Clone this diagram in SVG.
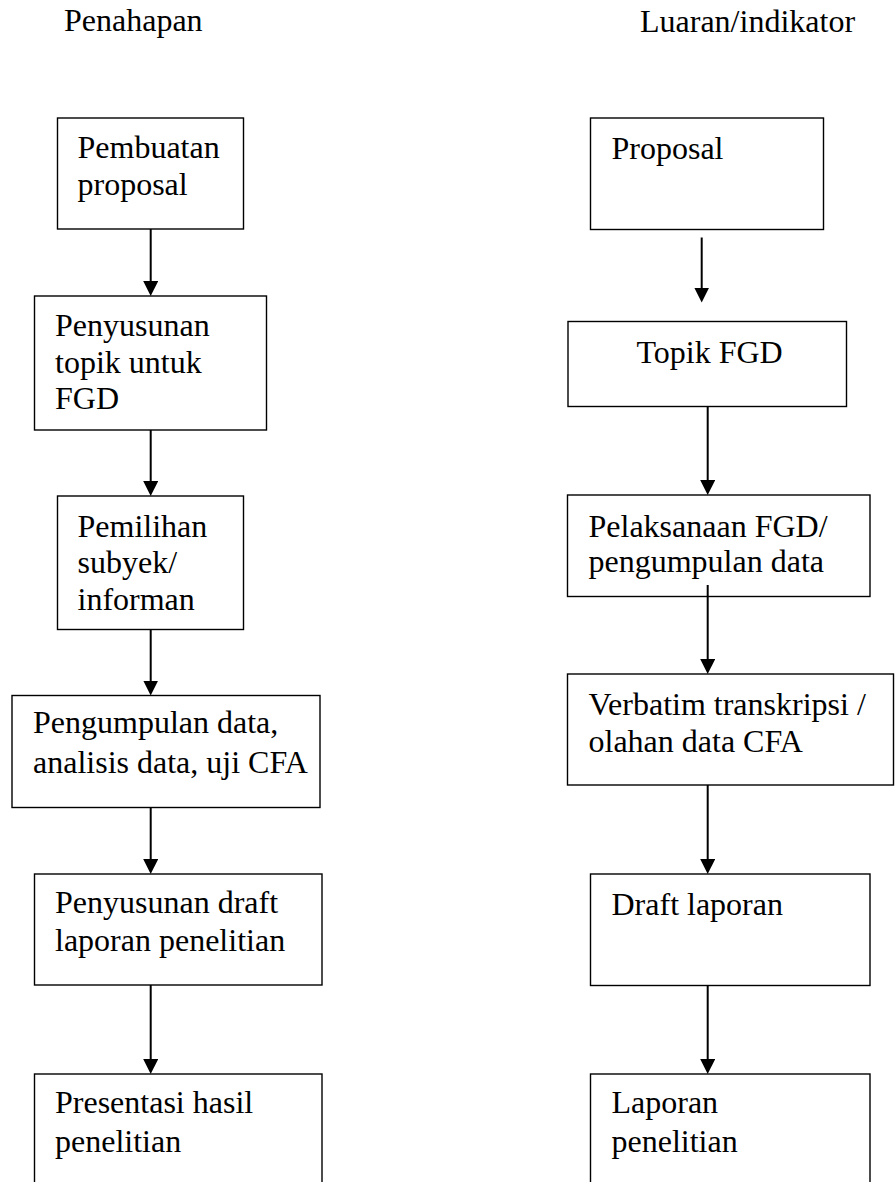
<svg xmlns="http://www.w3.org/2000/svg" width="896" height="1182" viewBox="0 0 896 1182">
  <style>
    .box { fill: #ffffff; stroke: #000000; stroke-width: 1.4; }
    .lbl { font-family: 'Liberation Serif', 'Times New Roman', serif; font-size: 32px; fill: #000000; }
    .link { stroke: #000000; stroke-width: 2; fill: none; marker-end: url(#head); }
  </style>
  <defs>
    <marker id="head" viewBox="0 0 15 15" markerWidth="15" markerHeight="15" refX="5" refY="7.5" orient="auto" markerUnits="userSpaceOnUse">
      <path d="M0,0 L15,7.5 L0,15 z" fill="#000000"/>
    </marker>
  </defs>
  <rect width="896" height="1182" fill="#ffffff"/>

  <!-- column headings -->
  <text class="lbl" x="64" y="31">Penahapan</text>
  <text class="lbl" x="640" y="32">Luaran/indikator</text>

  <!-- stages (left column) -->
  <g id="stage1">
    <rect class="box" x="57.5" y="118" width="186" height="111"/>
    <text class="lbl" x="77.5" y="158">Pembuatan</text>
    <text class="lbl" x="77.5" y="195">proposal</text>
  </g>
  <g id="stage2">
    <rect class="box" x="34.5" y="296" width="232" height="134"/>
    <text class="lbl" x="55" y="336">Penyusunan</text>
    <text class="lbl" x="55" y="372.5">topik untuk</text>
    <text class="lbl" x="55" y="409">FGD</text>
  </g>
  <g id="stage3">
    <rect class="box" x="57.5" y="496" width="186" height="133.5"/>
    <text class="lbl" x="77.5" y="536.5">Pemilihan</text>
    <text class="lbl" x="77.5" y="573">subyek/</text>
    <text class="lbl" x="77.5" y="610">informan</text>
  </g>
  <g id="stage4">
    <rect class="box" x="12" y="695.5" width="308" height="112"/>
    <text class="lbl" x="33" y="733">Pengumpulan data,</text>
    <text class="lbl" x="33" y="772.5">analisis data, uji CFA</text>
  </g>
  <g id="stage5">
    <rect class="box" x="34.5" y="874" width="287.5" height="111"/>
    <text class="lbl" x="55" y="913">Penyusunan draft</text>
    <text class="lbl" x="55" y="950.5">laporan penelitian</text>
  </g>
  <g id="stage6">
    <rect class="box" x="34.5" y="1074" width="287.5" height="200"/>
    <text class="lbl" x="55" y="1113">Presentasi hasil</text>
    <text class="lbl" x="55" y="1151.5">penelitian</text>
  </g>

  <!-- outputs (right column) -->
  <g id="output1">
    <rect class="box" x="590.5" y="118" width="233" height="111.5"/>
    <text class="lbl" x="611.5" y="159">Proposal</text>
  </g>
  <g id="output2">
    <rect class="box" x="568" y="321.5" width="278.5" height="85"/>
    <text class="lbl" x="636.5" y="363">Topik FGD</text>
  </g>
  <g id="output3">
    <rect class="box" x="567.5" y="495" width="302.5" height="101.5"/>
    <text class="lbl" x="588.5" y="536.5">Pelaksanaan FGD/</text>
    <text class="lbl" x="588.5" y="571.5">pengumpulan data</text>
  </g>
  <g id="output4">
    <rect class="box" x="567.5" y="674" width="326" height="111"/>
    <text class="lbl" x="588.5" y="715">Verbatim transkripsi /</text>
    <text class="lbl" x="588.5" y="751.5">olahan data CFA</text>
  </g>
  <g id="output5">
    <rect class="box" x="590.5" y="874" width="279.5" height="111.5"/>
    <text class="lbl" x="611.5" y="915">Draft laporan</text>
  </g>
  <g id="output6">
    <rect class="box" x="590.5" y="1074" width="279.5" height="200"/>
    <text class="lbl" x="611.5" y="1113">Laporan</text>
    <text class="lbl" x="611.5" y="1151.5">penelitian</text>
  </g>

  <!-- connectors: each line stops 10px short of the tip; the marker supplies the head -->
  <g id="connectors">
    <line class="link" x1="150.7" y1="229" x2="150.7" y2="286"/>
    <line class="link" x1="150.7" y1="430" x2="150.7" y2="486"/>
    <line class="link" x1="150.7" y1="629.5" x2="150.7" y2="685.5"/>
    <line class="link" x1="150.7" y1="807.5" x2="150.7" y2="864"/>
    <line class="link" x1="150.7" y1="985" x2="150.7" y2="1064"/>

    <line class="link" x1="701.7" y1="237.5" x2="701.7" y2="292.5"/>
    <line class="link" x1="707.7" y1="406.5" x2="707.7" y2="485"/>
    <line class="link" x1="707.7" y1="585" x2="707.7" y2="664"/>
    <line class="link" x1="707.7" y1="785" x2="707.7" y2="864"/>
    <line class="link" x1="707.7" y1="985.5" x2="707.7" y2="1064"/>
  </g>
</svg>
